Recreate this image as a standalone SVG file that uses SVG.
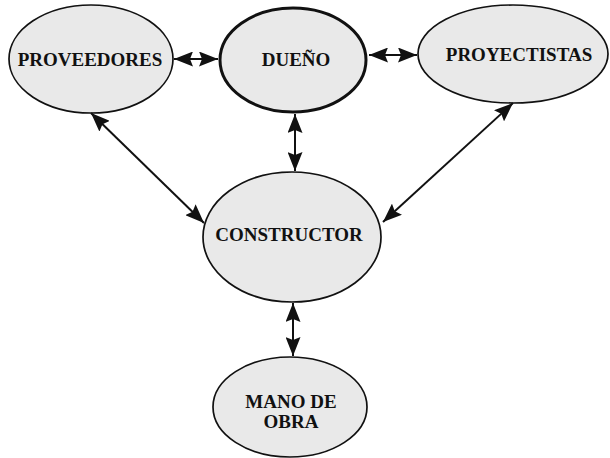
<svg xmlns="http://www.w3.org/2000/svg" width="610" height="458" viewBox="0 0 610 458">
<style>
.node ellipse{fill:#e9e9e9;stroke:#111;stroke-width:1.7}
#dueno ellipse{stroke-width:3}
.node text{font-family:"Liberation Serif","Times New Roman",serif;font-weight:bold;font-size:19px;fill:#111;text-anchor:middle}
.conn path{stroke:#111;stroke-width:2;fill:none;marker-start:url(#ah);marker-end:url(#ah)}
</style>
<defs>
<marker id="ah" markerUnits="userSpaceOnUse" markerWidth="20" markerHeight="15" refX="19" refY="7.5" orient="auto-start-reverse">
<path d="M0,0 L19,7.5 L0,15 L3,7.5 z" fill="#111"/>
</marker>
</defs>
<rect width="610" height="458" fill="#fff"/>
<g id="proveedores" class="node">
<ellipse cx="91" cy="59" rx="82" ry="54"/>
<text x="90" y="66">PROVEEDORES</text>
</g>
<g id="dueno" class="node">
<ellipse cx="293" cy="60" rx="73" ry="52"/>
<text x="296" y="66">DUEÑO</text>
</g>
<g id="proyectistas" class="node">
<ellipse cx="513" cy="54" rx="95" ry="49"/>
<text x="519" y="61">PROYECTISTAS</text>
</g>
<g id="constructor" class="node">
<ellipse cx="292" cy="237" rx="89" ry="65"/>
<text x="289" y="241">CONSTRUCTOR</text>
</g>
<g id="mano-de-obra" class="node">
<ellipse cx="290" cy="407" rx="77" ry="50"/>
<text x="291" y="408">MANO DE</text>
<text x="291" y="428">OBRA</text>
</g>
<g id="connectors" class="conn">
<path d="M174,59 L218,59"/>
<path d="M369,55 L417,55"/>
<path d="M295,114 L295,171"/>
<path d="M91,113 L204,223"/>
<path d="M513,103 L383,222"/>
<path d="M293,303 L293,356"/>
</g>
</svg>
